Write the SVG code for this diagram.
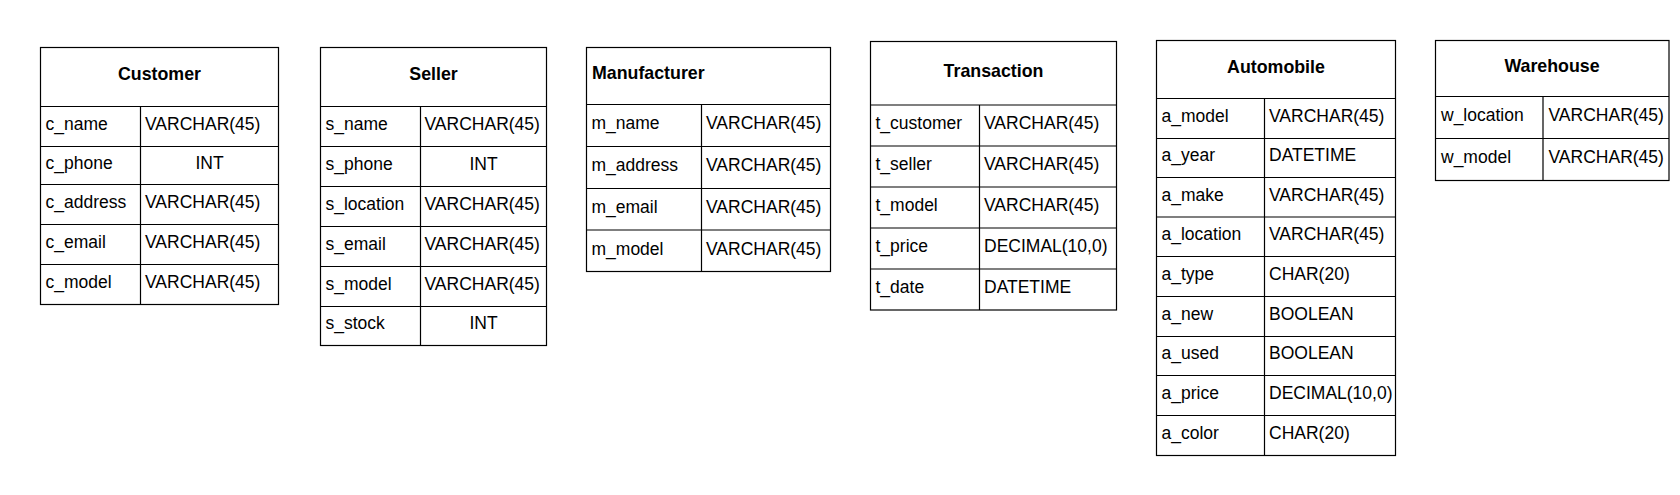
<svg xmlns="http://www.w3.org/2000/svg" width="1680" height="495" viewBox="0 0 1680 495">
<style>
.box{fill:#fff;stroke:#000;stroke-width:1.2}
.ln{stroke:#000;stroke-width:1.2;fill:none}
.t{font-family:"Liberation Sans",Arial,sans-serif;font-size:17.5px;fill:#000}
.h{font-family:"Liberation Sans",Arial,sans-serif;font-size:17.8px;font-weight:bold;fill:#000}
.c{text-anchor:middle}
</style>
<rect width="1680" height="495" fill="#fff"/>
<g id="connectors"></g>
<g id="customer">
<rect class="box" x="40.5" y="47.5" width="238" height="257"/>
<path class="ln" d="M40.5 106.5H278.5M40.5 146.5H278.5M40.5 184.5H278.5M40.5 224.5H278.5M40.5 264.5H278.5M140.5 106.5V304.5"/>
<text class="h c" x="159.5" y="80">Customer</text>
<text class="t" x="45.5" y="130">c_name</text><text class="t" x="145" y="130">VARCHAR(45)</text>
<text class="t" x="45.5" y="169">c_phone</text><text class="t c" x="209.5" y="169">INT</text>
<text class="t" x="45.5" y="208">c_address</text><text class="t" x="145" y="208">VARCHAR(45)</text>
<text class="t" x="45.5" y="248">c_email</text><text class="t" x="145" y="248">VARCHAR(45)</text>
<text class="t" x="45.5" y="288">c_model</text><text class="t" x="145" y="288">VARCHAR(45)</text>
</g>
<g id="seller">
<rect class="box" x="320.5" y="47.5" width="226" height="298"/>
<path class="ln" d="M320.5 106.5H546.5M320.5 146.5H546.5M320.5 186.5H546.5M320.5 226.5H546.5M320.5 266.5H546.5M320.5 306.5H546.5M420.5 106.5V345.5"/>
<text class="h c" x="433.5" y="80">Seller</text>
<text class="t" x="325.5" y="130">s_name</text><text class="t" x="424.5" y="130">VARCHAR(45)</text>
<text class="t" x="325.5" y="170">s_phone</text><text class="t c" x="483.5" y="170">INT</text>
<text class="t" x="325.5" y="210">s_location</text><text class="t" x="424.5" y="210">VARCHAR(45)</text>
<text class="t" x="325.5" y="250">s_email</text><text class="t" x="424.5" y="250">VARCHAR(45)</text>
<text class="t" x="325.5" y="290">s_model</text><text class="t" x="424.5" y="290">VARCHAR(45)</text>
<text class="t" x="325.5" y="329">s_stock</text><text class="t c" x="483.5" y="329">INT</text>
</g>
<g id="manufacturer">
<rect class="box" x="586.5" y="47.5" width="244" height="224"/>
<path class="ln" d="M586.5 104.5H830.5M586.5 146.5H830.5M586.5 188.5H830.5M586.5 230H830.5M701.5 104.5V271.5"/>
<text class="h" x="592" y="79">Manufacturer</text>
<text class="t" x="591.5" y="129">m_name</text><text class="t" x="706" y="129">VARCHAR(45)</text>
<text class="t" x="591.5" y="171">m_address</text><text class="t" x="706" y="171">VARCHAR(45)</text>
<text class="t" x="591.5" y="213">m_email</text><text class="t" x="706" y="213">VARCHAR(45)</text>
<text class="t" x="591.5" y="255">m_model</text><text class="t" x="706" y="255">VARCHAR(45)</text>
</g>
<g id="transaction">
<rect class="box" x="870.5" y="41.5" width="246" height="268.5"/>
<path class="ln" d="M870.5 105H1116.5M870.5 146H1116.5M870.5 187H1116.5M870.5 228H1116.5M870.5 269H1116.5M979.5 105V310"/>
<text class="h c" x="993.5" y="77">Transaction</text>
<text class="t" x="875.5" y="129">t_customer</text><text class="t" x="984" y="129">VARCHAR(45)</text>
<text class="t" x="875.5" y="170">t_seller</text><text class="t" x="984" y="170">VARCHAR(45)</text>
<text class="t" x="875.5" y="211">t_model</text><text class="t" x="984" y="211">VARCHAR(45)</text>
<text class="t" x="875.5" y="252">t_price</text><text class="t" x="984" y="252">DECIMAL(10,0)</text>
<text class="t" x="875.5" y="293">t_date</text><text class="t" x="984" y="293">DATETIME</text>
</g>
<g id="automobile">
<rect class="box" x="1156.5" y="40.5" width="239" height="415"/>
<path class="ln" d="M1156.5 98.5H1395.5M1156.5 138.5H1395.5M1156.5 177.5H1395.5M1156.5 217H1395.5M1156.5 256.5H1395.5M1156.5 296.5H1395.5M1156.5 336.5H1395.5M1156.5 375.5H1395.5M1156.5 415.5H1395.5M1264.5 98.5V455.5"/>
<text class="h c" x="1276" y="73">Automobile</text>
<text class="t" x="1161.5" y="122">a_model</text><text class="t" x="1269" y="122">VARCHAR(45)</text>
<text class="t" x="1161.5" y="161">a_year</text><text class="t" x="1269" y="161">DATETIME</text>
<text class="t" x="1161.5" y="201">a_make</text><text class="t" x="1269" y="201">VARCHAR(45)</text>
<text class="t" x="1161.5" y="240">a_location</text><text class="t" x="1269" y="240">VARCHAR(45)</text>
<text class="t" x="1161.5" y="280">a_type</text><text class="t" x="1269" y="280">CHAR(20)</text>
<text class="t" x="1161.5" y="320">a_new</text><text class="t" x="1269" y="320">BOOLEAN</text>
<text class="t" x="1161.5" y="359">a_used</text><text class="t" x="1269" y="359">BOOLEAN</text>
<text class="t" x="1161.5" y="399">a_price</text><text class="t" x="1269" y="399">DECIMAL(10,0)</text>
<text class="t" x="1161.5" y="439">a_color</text><text class="t" x="1269" y="439">CHAR(20)</text>
</g>
<g id="warehouse">
<rect class="box" x="1435.5" y="40.5" width="233.5" height="140"/>
<path class="ln" d="M1435.5 96.5H1669M1435.5 138.5H1669M1543 96.5V180.5"/>
<text class="h c" x="1552" y="71.5">Warehouse</text>
<text class="t" x="1441" y="121">w_location</text><text class="t" x="1548.5" y="121">VARCHAR(45)</text>
<text class="t" x="1441" y="163">w_model</text><text class="t" x="1548.5" y="163">VARCHAR(45)</text>
</g>
</svg>
